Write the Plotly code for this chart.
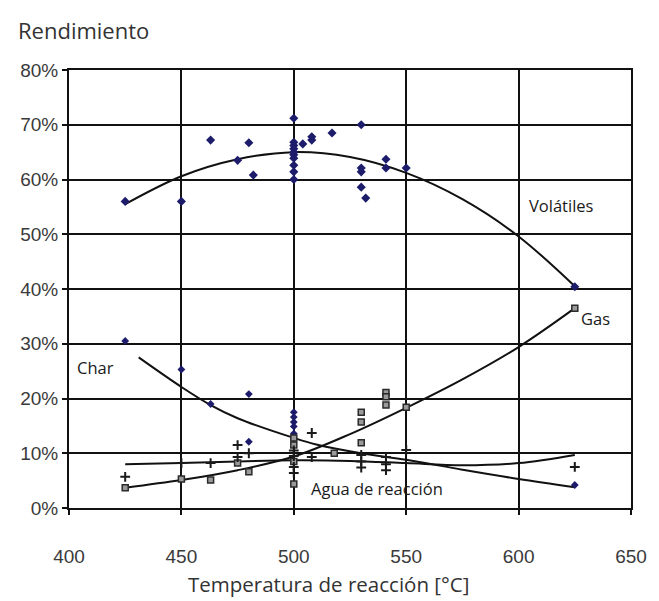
import plotly.graph_objects as go

# ---- data (yield in %, temperature in °C) ----
vol_temp = [425, 450, 463, 475, 480, 482, 500, 500, 500, 500, 500, 500, 500, 500, 500, 500,
            504, 508, 508, 517, 530, 530, 530, 530, 532, 541, 541, 550, 625]
vol_yield = [56.0, 56.0, 67.2, 63.5, 66.7, 60.8, 71.2, 66.8, 66.2, 65.6, 65.0, 64.5, 63.9, 62.6, 61.4, 60.0,
             66.5, 67.8, 67.2, 68.5, 70.0, 62.1, 61.4, 58.6, 56.6, 63.7, 62.1, 62.1, 40.4]

char_temp = [425, 450, 463, 480, 480, 500, 500, 500, 500, 500, 625]
char_yield = [30.5, 25.3, 19.0, 20.8, 12.1, 17.5, 16.6, 15.7, 14.9, 13.6, 4.2]

gas_temp = [425, 450, 463, 475, 480, 500, 500, 500, 500, 518, 530, 530, 530, 541, 541, 541, 550, 625]
gas_yield = [3.7, 5.3, 5.1, 8.2, 6.6, 12.8, 11.5, 8.5, 4.4, 10.0, 17.5, 15.7, 11.9, 21.1, 20.3, 18.8, 18.4, 36.5]

agua_temp = [425, 450, 463, 475, 475, 480, 500, 500, 500, 500, 508, 508, 530, 530, 530, 541, 541, 541, 550, 625]
agua_yield = [5.7, 8.2, 8.2, 11.5, 9.3, 10.0, 10.5, 9.5, 7.5, 6.4, 13.7, 9.3, 9.7, 8.5, 7.4, 9.3, 8.0, 6.9, 10.6, 7.5]

# trend curves, values
vol_curve_t = [425, 450, 475, 500, 525, 550, 575, 600, 625]
vol_curve_y = [55.5, 60.6, 63.7, 65.0, 64.1, 61.2, 56.4, 49.6, 40.5]

char_curve_t = [431, 450, 463, 475, 500, 510, 530, 550, 575, 600, 625]
char_curve_y = [27.5, 22.1, 18.8, 16.4, 12.8, 11.6, 10.0, 8.8, 7.0, 5.3, 3.8]

gas_curve_t = [425, 450, 475, 500, 525, 550, 575, 600, 625]
gas_curve_y = [3.7, 5.1, 6.9, 9.4, 13.5, 18.3, 23.5, 29.4, 36.5]

agua_curve_t = [425, 450, 475, 500, 525, 550, 575, 600, 625]
agua_curve_y = [8.0, 8.2, 8.5, 8.7, 8.6, 8.2, 7.8, 8.2, 9.7]

NAVY = '#1c1c6b'
LINE = '#111111'
TEXT = '#333333'

fig = go.Figure()

for t, y in [(vol_curve_t, vol_curve_y), (char_curve_t, char_curve_y),
             (gas_curve_t, gas_curve_y), (agua_curve_t, agua_curve_y)]:
    fig.add_trace(go.Scatter(x=t, y=y, mode='lines', line=dict(color=LINE, width=2, shape='spline'),
                             showlegend=False, hoverinfo='skip'))

fig.add_trace(go.Scatter(x=vol_temp, y=vol_yield, mode='markers', name='Volátiles',
                         marker=dict(symbol='diamond', size=7, color=NAVY)))
fig.add_trace(go.Scatter(x=char_temp, y=char_yield, mode='markers', name='Char',
                         marker=dict(symbol='diamond', size=6, color=NAVY)))
fig.add_trace(go.Scatter(x=gas_temp, y=gas_yield, mode='markers', name='Gas',
                         marker=dict(symbol='square', size=6, color='#9a9a9a',
                                     line=dict(color='#2a2a2a', width=1.5))))
fig.add_trace(go.Scatter(x=agua_temp, y=agua_yield, mode='markers', name='Agua de reacción',
                         marker=dict(symbol='cross-thin', size=7, color='#1a1a1a',
                                     line=dict(color='#1a1a1a', width=2))))

labels = [('Volátiles', 619, 55.2), ('Gas', 634, 34.7), ('Char', 412, 25.6), ('Agua de reacción', 537, 3.6)]
for txt, x, y in labels:
    fig.add_annotation(x=x, y=y, text=txt, showarrow=False,
                       font=dict(family='Open Sans', size=16.5, color='#1a1a1a'))

fig.add_annotation(xref='paper', yref='paper', x=-0.095, y=1.091, xanchor='left', yanchor='middle',
                   text='Rendimiento', showarrow=False,
                   font=dict(family='Open Sans', size=22, color=TEXT))

fig.add_annotation(xref='paper', yref='paper', x=0.462, y=-0.174, xanchor='center', yanchor='middle',
                   text='Temperatura de reacción [°C]', showarrow=False, borderpad=0,
                   font=dict(family='Open Sans', size=20.5, color=TEXT))

# the page body adds an 8px offset, so the figure is sized and placed to compensate
fig.update_layout(
    width=651, height=593,
    plot_bgcolor='white', paper_bgcolor='white',
    margin=dict(l=59, r=23, t=62, b=93),
    showlegend=False,
    font=dict(family='Liberation Sans', color=TEXT),
    xaxis=dict(range=[400, 650], dtick=50, showgrid=True, gridcolor=LINE, gridwidth=2,
               showline=True, linecolor=LINE, linewidth=2, mirror=True, zeroline=False,
               ticks='outside', ticklen=5, tickwidth=2, tickcolor=LINE, ticklabelstandoff=25,
               tickfont=dict(family='Liberation Sans', size=19, color='#3a3a3a')),
    yaxis=dict(range=[0, 80], dtick=10, ticksuffix='%', showgrid=True, gridcolor=LINE, gridwidth=2,
               showline=True, linecolor=LINE, linewidth=2, mirror=True, zeroline=False,
               ticks='outside', ticklen=5, tickwidth=2, tickcolor=LINE,
               tickfont=dict(family='Liberation Sans', size=19, color='#3a3a3a')),
)

fig.write_html("out.html")
